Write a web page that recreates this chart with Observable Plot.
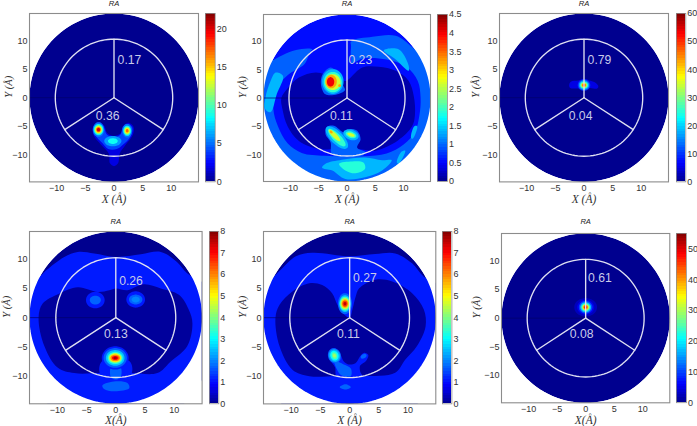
<!DOCTYPE html>
<html><head><meta charset="utf-8">
<script src="https://cdn.jsdelivr.net/npm/d3@7"></script>
<script src="https://cdn.jsdelivr.net/npm/@observablehq/plot@0.6"></script>
<style>
html,body{margin:0;padding:0;background:#fff;}
#root{position:relative;width:697px;height:426px;overflow:hidden;}
#root svg{position:absolute;overflow:visible;background:transparent;}
g[aria-description="contour"]{filter:blur(0.55px);}
</style></head><body><div id="root"></div>
<script>
// ---- shared axis values
const axisTicks = [-10,-5,0,5,10];
const extent = 14.75;
const wheelRadius = 10.25;
const spokes = [[0,10.25],[-8.6,-5.6],[8.6,-5.6]];
const jetStops = [0,0.11,0.375,0.625,0.875,1];
const jetColors = ["#00008f","#0000ff","#00ffff","#ffff00","#ff0000","#800000"];

// ---- frames: left, top, right, bottom (px)
const frames = [[29.3,13.3,198.3,181.7],[263,14,430,181],[499.3,13.3,668.3,181.7],
                [28.7,231,201.3,403.3],[262.7,231.3,435,403.7],[500.7,233,669,402.3]];
const barFrames = [[205.3,13.3,215,181.7],[437,14,447,181],[675.7,13.3,685,181.7],
                   [208.7,231,218,403.3],[442.3,231.3,451.7,403.7],[676.3,233,686.3,402.3]];
const maxima = [22,4.5,60,8,8,55];
const barTicks = [[0,5,10,15,20],[0,.5,1,1.5,2,2.5,3,3.5,4,4.5],[0,10,20,30,40,50,60],
                  [0,1,2,3,4,5,6,7,8],[0,1,2,3,4,5,6,7,8],[0,10,20,30,40,50]];
const baseLevels = [0,0.55,0,0,0,0];
const titleOffsets = [-8.8,-9.7,-9,-9.3,-9.3,-11];
const xLabels = ["X (Å)","X (Å)","X (Å)","X(Å)","X (Å)","X(Å)"];
const xLabelOffsets = [21,21,21,20.5,20.5,21];
const yLabelOffsets = [-21,-21,-23.6,-22.7,-21,-24.7];
// wheel fractions: text, x, y
const fractions = [
 [["0.17",2.7,6.6],["0.36",-1.1,-3.2]],
 [["0.23",2.35,6.7],["0.11",-1,-3.2]],
 [["0.79",2.7,6.6],["0.04",-0.6,-3.2]],
 [["0.26",2.6,6.2],["0.13",0,-2.85]],
 [["0.27",2.6,6.7],["0.11",-0.2,-2.85]],
 [["0.61",2.5,7],["0.08",-0.7,-2.85]]
];

// ---- density contours. shapes: [level, [x,y,x,y,...]]
const shapes1 = [
 [1.8,[-3.6,-5,-2.7,-4.3,-1.7,-4.9,-1.2,-6.2,0,-6.7,1.2,-6.2,1.7,-4.9,2.5,-4.4,3.4,-5.1,3.3,-6.5,2,-8.3,1,-9.8,0.7,-11.5,0,-12,-0.7,-11.5,-0.9,-9.8,-2.3,-8.2,-3.6,-6.5]],
 [4,[-3.4,-5,-2.7,-4.5,-1.9,-5,-1.2,-6.5,0,-6.9,1.1,-6.5,1.6,-5,2.4,-4.6,3.2,-5.2,2.9,-6.8,1.5,-8.3,0.5,-9,-1,-9,-2,-8,-3.3,-6.5]]
];
// spots: [level, cx, cy, rx, ry, tilt degrees]
const spots1 = [
 [6,-0.2,-7.6,1.5,0.9,0],[8.5,-0.2,-7.6,0.85,0.5,0],
 [5,-2.7,-5.6,1,1.3,0],[8,-2.7,-5.6,0.85,1,0],[11,-2.7,-5.6,0.7,0.8,0],[14,-2.7,-5.6,0.55,0.6,0],[17,-2.7,-5.6,0.42,0.45,0],[20,-2.7,-5.6,0.28,0.3,0],
 [5,2.3,-5.8,0.85,1.2,0],[8,2.3,-5.8,0.7,0.9,0],[11,2.3,-5.8,0.55,0.7,0],[14,2.3,-5.8,0.42,0.5,0],[17,2.3,-5.8,0.25,0.3,0]
];
const shapes2 = [
 [0.95,[0.5,6,0.6,9.8,4.5,10.8,8.6,11,11.5,9,14,6.5,16,2,16,-3,15,-8,12,-12,6,-15,0,-16,-6,-15,-12,-12,-15,-7,-16,-1,-16,2,-14.5,5.5,-11.5,7.5,-9,8.5,-6,8.5,-6.5,6.5,-8,4.5,-8,3]],
 [0.55,[-6.1,8.6,-3,9.5,0.5,9.9,0.7,6.2,3,7,7,6.8,10.5,5.5,12.5,3,13,0,12.8,-3,12,-6,10,-8.2,7,-9.8,3,-10.3,0,-10.3,-4,-10.2,-8,-9.7,-10.5,-8,-12.2,-5,-13,-2,-12.6,1.5,-10.5,4,-7.5,6]],
 [0.12,[-11.6,0,-10.5,1.7,-8.5,3.6,-5.5,4.5,-2.3,3.6,-0.2,3,0.5,3.5,2.7,5.4,5.6,5.5,8.6,4.8,10.9,3,11.8,0.3,12,-3,11.5,-5,9,-7.5,5,-9.3,2,-9,-2,-9,-5,-9,-8.5,-7.6,-10.5,-5,-11.4,-2]],
 [1.35,[-12.6,4.5,-11.3,3.9,-12.4,0.7,-13.5,-2.5,-14.5,-1.9,-14.4,0.1,-13.5,3]],
 [1.35,[6.5,8.4,9.1,8.6,10.8,6,10.9,4.8,8.5,6.9]],
 [1.35,[10.3,-9.3,9.1,-11.6,8.8,-11.4,9.6,-9.5]],
 [1.35,[12.4,-5,11.6,-7.2,11.3,-7,11.9,-5]],
 [1.35,[-4.4,-12.3,-3.8,-11.6,-0.9,-10.9,3.2,-10.5,6.2,-11,7.9,-11,6.2,-12.8,3.2,-14,-0.3,-14.3,-2.6,-12.8]],
 [1.85,[-1.4,-11.6,0.9,-11.2,2.9,-11.4,3.2,-12.5,1.5,-13.3,-0.3,-12.8]],
 [0.95,[-3.5,-5.1,-2.3,-4.9,-0.5,-6.1,0.6,-5.5,1.8,-5.8,2.4,-7.3,1.8,-8.8,3.3,-9.6,2.7,-10.2,-2.6,-10,-2.9,-7.8,-3.8,-6.4]],
 [0.95,[-2.9,5.4,-1.7,4.5,-0.8,2.4,-0.35,1.4,-1.7,0.65,-3.8,0.65,-4.6,2.4,-4.3,4.2]]
];
const spots2 = [
 [1.35,-1.8,-7,2.6,1.1,-45],[1.35,0.7,-6.5,1.4,0.9,-20],
 [1.9,-1.8,-7,2.1,0.7,-45],[1.9,0.7,-6.5,1,0.55,-20],
 [2.6,-2.2,-6.6,1.4,0.4,-45],[2.6,0.7,-6.5,0.7,0.3,-20],[3.2,-2.8,-6,0.3,0.22,-45],
 [1.35,-2.5,2.9,1.9,2.2,0],[1.9,-2.5,2.8,1.6,1.8,0],[2.6,-2.5,2.8,1.35,1.4,0],
 [3.2,-2.8,2.9,1,1.2,0],[3.2,-1.3,2.2,0.25,0.25,0],[4,-2.9,2.85,0.65,0.85,0]
];
const shapes3 = [
 [5,[-2.6,2.2,-2.3,2.8,-1,3,0,3.3,1,3,2,2.6,2.5,2,2.3,1.6,1,1.7,0,1.4,-1,1.6,-2.4,1.7]]
];
const spots3 = [
 [10,0,2.2,1.1,1,0],[17,0,2.2,0.9,0.85,0],[25,0,2.2,0.7,0.65,0],[32,0,2.2,0.55,0.5,0],[42,0,2.2,0.4,0.35,0],[50,0,2.2,0.25,0.22,0]
];
const shapes4 = [
 [1.1,[-13,7,-11.9,8.1,-8.8,10.4,-6.5,11.25,-3.7,11,0,10.4,4.3,10.85,7.7,11.25,10.5,9.5,12.2,7.6,16,5,17,0,16,-8,10,-16,0,-17,-10,-16,-16,-8,-17,0,-16,5]],
 [0.1,[-13.2,0,-12.5,2.4,-9.7,4.1,-6.5,5.2,-3.1,4.4,-1.1,4.7,0,5,2,4.7,4.8,5.7,7.7,5,10.8,3.9,12.5,1.3,13.1,-1,12.2,-4.9,9.4,-7.5,7.1,-9.5,2.6,-9.5,-2.6,-9.5,-7.1,-9.5,-9.9,-8.6,-12.2,-4.9]],
 [1.1,[-2.4,-7.5,2.4,-7.5,2.6,-9.7,-2.6,-9.7]],
 [1.7,[-0.8,-8.5,0.8,-8.5,0.8,-10.3,0,-10.6,-0.8,-10.3]],
 [1.7,[-2.3,-11.6,0,-10.9,2,-11.2,2.3,-12.1,-0.3,-12.6,-2,-12.2]]
];
const spots4 = [
 [1.1,-3.5,3,1.6,1.4,0],[1.7,-3.5,3,0.95,0.75,0],
 [1.1,3.4,3.1,1.6,1.4,0],[1.7,3.4,3.1,1.15,0.85,0],[2,3.4,3.1,0.7,0.5,0],
 [1.1,-0.1,-6.9,2.3,2,0],[1.7,-0.1,-6.9,2,1.7,0],[2.5,-0.1,-6.9,1.6,1.35,0],[3.3,-0.1,-6.9,1.3,1.05,0],[4.3,-0.1,-6.9,1.1,0.85,0],[5.2,-0.1,-6.9,0.95,0.7,0],[6,-0.1,-6.9,0.8,0.55,0],[7,-0.1,-6.9,0.55,0.35,0],[7.7,-0.1,-6.9,0.3,0.2,0]
];
const shapes5 = [
 [1.1,[-13,7,-11.9,8.1,-9.2,10.5,-6.4,11.1,0,10.5,4.4,10.9,7.8,11,10.7,9.3,12.7,7,16,5,17,0,16,-8,10,-16,0,-17,-10,-16,-16,-8,-17,0,-16,5]],
 [0.1,[-12.7,0,-12,2.2,-9.8,4.5,-6.9,5.9,-4.7,5.6,-3,4.2,-2.1,2.2,-1.2,0.8,0,0,0.5,1.5,1,3.5,1.6,5,4.4,6.5,7.3,6.2,10.7,4.2,12.7,1.4,13,-1.5,11.5,-4.9,9.5,-7.2,7.8,-9.4,2.2,-10,-2.4,-10,-6.9,-10,-9.8,-8.9,-12,-4.9]],
 [1.1,[-3.3,-5.5,-2.5,-5.2,-1.6,-6.2,-1,-7.5,-0.2,-8,1,-7.8,1.8,-6.6,2.5,-6,3.2,-6.4,2.8,-7.4,1.8,-8.2,1.8,-9.2,2.2,-10.1,-2.2,-10.1,-2.5,-8.5,-3.5,-7]],
 [1.7,[-2.6,-7.4,-1,-8,0.2,-8.7,0.2,-10,-1.5,-9.8,-2.2,-8.8]],
 [1.7,[-1.7,-11.9,-0.7,-11.4,0.2,-11.9,-0.7,-12.3]]
];
const spots5 = [
 [1.7,2.4,-6.6,0.55,0.35,30],
 [1.7,-2.6,-6.5,1.1,1.3,20],[2.3,-2.6,-6.5,0.95,1.1,20],[3,-2.6,-6.5,0.7,0.85,20],[3.7,-2.6,-6.5,0.45,0.6,20],[4.3,-2.6,-6.5,0.25,0.3,20],
 [1.7,-0.8,2.4,1.2,1.8,0],[2.5,-0.8,2.4,1,1.45,0],[3.5,-0.8,2.4,0.9,1.2,0],[4.5,-0.8,2.4,0.75,0.95,0],[5.5,-0.8,2.4,0.6,0.75,0],[6.5,-0.8,2.4,0.45,0.55,0],[7.5,-0.8,2.4,0.25,0.3,0]
];
const shapes6 = [];
const spots6 = [
 [2.5,0,1.9,2,1.6,0],[5,0,1.9,1.5,1.3,0],[10,0,1.9,1.2,1.1,0],[17,0,1.9,0.95,0.9,0],[25,0,1.9,0.75,0.7,0],[33,0,1.9,0.55,0.5,0],[42,0,1.9,0.4,0.38,0],[50,0,1.9,0.22,0.2,0]
];
const allShapes = [shapes1,shapes2,shapes3,shapes4,shapes5,shapes6];
const allSpots = [spots1,spots2,spots3,spots4,spots5,spots6];

// ---- outline helpers: these only turn the rows above into outlines
const circleOutline = (r,n=120)=>d3.range(n).map(i=>[r*Math.cos(2*Math.PI*i/n),r*Math.sin(2*Math.PI*i/n)]);
function spotOutline([v,cx,cy,rx,ry,tilt]){
  const a=tilt*Math.PI/180;
  return d3.range(18).map(i=>{
    const t=2*Math.PI*i/18,u=rx*Math.cos(t),w=ry*Math.sin(t);
    return [cx+u*Math.cos(a)-w*Math.sin(a),cy+u*Math.sin(a)+w*Math.cos(a)];
  });
}
function contourRows(k){
  const rows=[];let id=0;
  const add=(v,pts)=>{id++;for(const [x,y] of pts)rows.push({x,y,v,id});};
  for(const [v,flat] of allShapes[k]) add(v,d3.range(0,flat.length,2).map(i=>[flat[i],flat[i+1]]));
  for(const s of allSpots[k]) add(s[0],spotOutline(s));
  return rows;
}
const fontSans='"Liberation Sans",Arial,sans-serif';
const fontSerif='"Liberation Serif","Times New Roman",serif';
const colorScale=max=>({type:"linear",domain:jetStops.map(t=>t*max),range:jetColors,clamp:true});
const root=document.getElementById("root");
function place(svg,left,top){svg.style.left=left+"px";svg.style.top=top+"px";root.appendChild(svg);}

frames.forEach((f,k)=>{
  const [l,t,r,b]=f, ml=32,mr=4,mt=16,mb=26, max=maxima[k];
  const unit=(r-l)/(2*extent);
  const maskHalf=3.5;
  const maskRadius=extent+maskHalf;
  const baseRows=circleOutline(extent).map(([x,y])=>({x,y,v:baseLevels[k]}));
  const svg=Plot.plot({
    width:r-l+ml+mr,height:b-t+mt+mb,
    marginLeft:ml,marginRight:mr,marginTop:mt,marginBottom:mb,
    x:{domain:[-extent,extent]},y:{domain:[-extent,extent]},
    color:colorScale(max),
    style:{fontFamily:fontSans,fontSize:"9px",color:"#333",background:"transparent"},
    marks:[
      Plot.line(baseRows,{x:"x",y:"y",fill:"v",stroke:"none"}),
      Plot.line(contourRows(k),{x:"x",y:"y",z:"id",fill:"v",stroke:"none",curve:"catmull-rom-closed",clip:true,ariaDescription:"contour"}),
      Plot.ruleY([0],{x1:-extent,x2:0,stroke:"#00006a",strokeWidth:0.7}),
      Plot.line(circleOutline(maskRadius).concat([[maskRadius,0]]),{stroke:"#fff",strokeWidth:2*maskHalf*unit,clip:true}),
      Plot.line(circleOutline(wheelRadius).concat([[wheelRadius,0]]),{stroke:"#dfe0f2",strokeWidth:1.35}),
      ...spokes.map(s=>Plot.line([[0,0],s],{stroke:"#dfe0f2",strokeWidth:1.35})),
      Plot.text(fractions[k],{x:d=>d[1],y:d=>d[2],text:d=>d[0],fill:"#c9cbe9",fontSize:12.2,fontFamily:fontSans}),
      Plot.frame({stroke:"#8c8c8c",strokeWidth:1.1}),
      Plot.axisX({ticks:axisTicks,tickSize:0,tickPadding:3,label:null}),
      Plot.axisY({ticks:axisTicks,tickSize:0,tickPadding:2,label:null}),
      Plot.text(["RA"],{frameAnchor:"top",dy:titleOffsets[k]-4,fontStyle:"italic",fontSize:7.6,fill:"#222",fontFamily:fontSans}),
      Plot.text([xLabels[k]],{frameAnchor:"bottom",dy:xLabelOffsets[k],fontStyle:"italic",fontSize:11.5,fill:"#333",fontFamily:fontSerif}),
      Plot.text(["Y (Å)"],{frameAnchor:"left",dx:yLabelOffsets[k],rotate:-90,fontStyle:"italic",fontSize:10.5,fill:"#333",fontFamily:fontSerif})
    ]
  });
  place(svg,l-ml,t-mt);
});

barFrames.forEach((f,k)=>{
  const [l,t,r,b]=f, mt=4,mb=6, max=maxima[k];
  const mr=Math.min(24,697-r);
  const steps=d3.range(64);
  const svg=Plot.plot({
    width:r-l+mr,height:b-t+mt+mb,
    marginLeft:0,marginRight:mr,marginTop:mt,marginBottom:mb,
    x:{domain:[0,1],axis:null},y:{domain:[0,max]},
    color:colorScale(max),
    style:{fontFamily:fontSans,fontSize:"9px",color:"#333",background:"transparent"},
    marks:[
      Plot.rect(steps,{x1:0,x2:1,y1:i=>i*max/64,y2:i=>(i+1)*max/64,fill:i=>(i+0.5)*max/64,shapeRendering:"crispEdges"}),
      Plot.frame({stroke:"#8c8c8c",strokeWidth:0.8}),
      Plot.axisY({anchor:"right",ticks:barTicks[k],tickSize:0,tickPadding:1.5,tickFormat:d=>String(d),label:null})
    ]
  });
  place(svg,l,t-mt);
});
</script></body></html>
